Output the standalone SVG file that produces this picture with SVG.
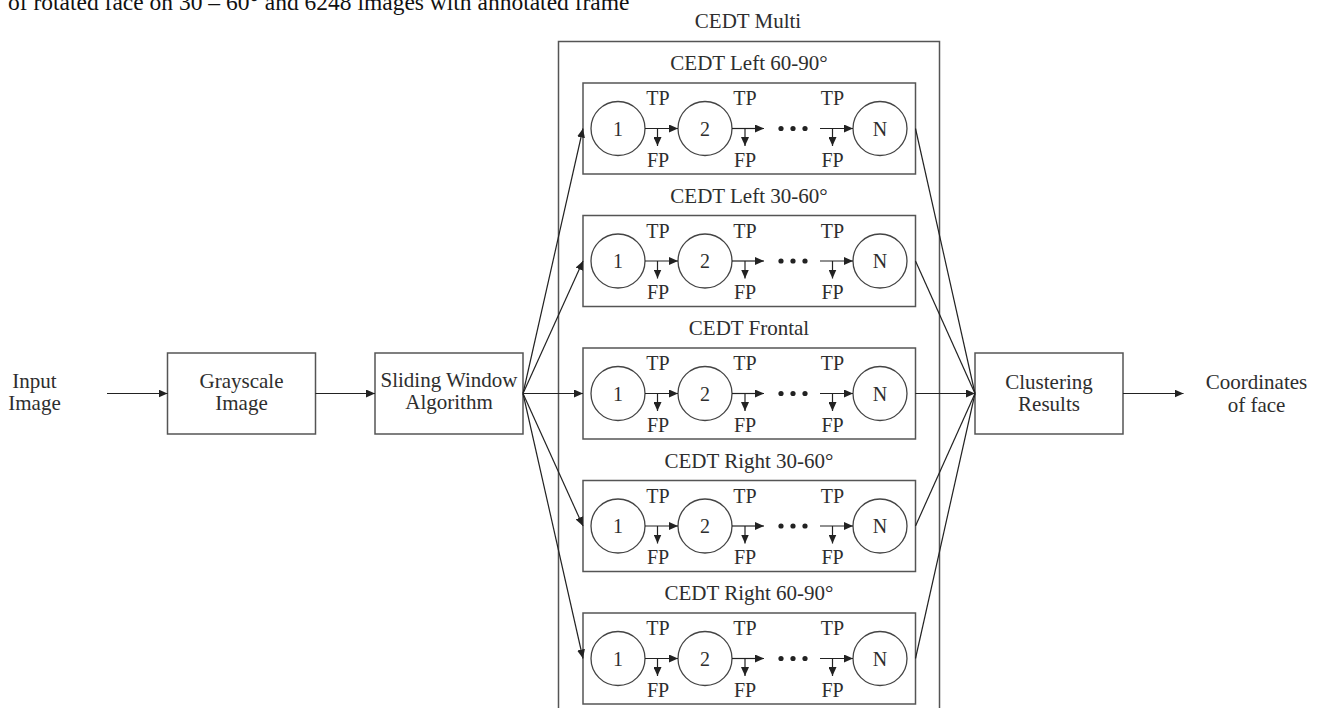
<svg xmlns="http://www.w3.org/2000/svg" width="1320" height="708" viewBox="0 0 1320 708">
<defs>
<marker id="ah" markerUnits="userSpaceOnUse" markerWidth="9" markerHeight="8" refX="9" refY="4" orient="auto">
<path d="M0,0 L9,4 L0,8 z" fill="#222"/>
</marker>
<style>
text{font-family:"Liberation Serif","Times New Roman",serif;fill:#2e2e2e;text-anchor:middle}
.lbl{font-size:21px}
.sm{font-size:20px}
.cap{font-size:23.5px;fill:#111;text-anchor:start}
.box{fill:none;stroke:#555;stroke-width:1.5}
.cir{fill:#fff;stroke:#444;stroke-width:1.3}
.ln{fill:none;stroke:#222;stroke-width:1.2}
.ar{fill:none;stroke:#222;stroke-width:1.2;marker-end:url(#ah)}
.dot{fill:#222}
</style>
</defs>
<rect width="1320" height="708" fill="#fff"/>
<text class="cap" x="8" y="10">of rotated face on 30 – 60° and 6248 images with annotated frame</text>

<g id="input"><text class="lbl" x="34.5" y="388">Input</text><text class="lbl" x="34.5" y="410">Image</text></g>
<g id="grayscale"><rect class="box" x="167.5" y="353" width="148" height="81"/><text class="lbl" x="241.5" y="388">Grayscale</text><text class="lbl" x="241.5" y="410">Image</text></g>
<g id="sliding"><rect class="box" x="375" y="353" width="148" height="81"/><text class="lbl" x="449" y="387">Sliding Window</text><text class="lbl" x="449" y="409">Algorithm</text></g>
<g id="clustering"><rect class="box" x="975" y="353" width="148" height="81"/><text class="lbl" x="1049" y="388.5">Clustering</text><text class="lbl" x="1049" y="410.5">Results</text></g>
<g id="coords"><text class="lbl" x="1256.5" y="389">Coordinates</text><text class="lbl" x="1256.5" y="411.5">of face</text></g>

<g id="cedt-multi"><rect class="box" x="558.5" y="41.5" width="381" height="700"/><text class="lbl" x="748" y="28">CEDT Multi</text></g>

<g id="row-left-60-90">
<rect class="box" x="583" y="83" width="332.5" height="91"/>
<text class="lbl" x="749" y="70">CEDT Left 60-90°</text>
<circle class="cir" cx="618" cy="128.5" r="27"/><circle class="cir" cx="705" cy="128.5" r="27"/><circle class="cir" cx="880" cy="128.5" r="27"/>
<text class="sm" x="618" y="135.5">1</text><text class="sm" x="705" y="135.5">2</text><text class="sm" x="880" y="135.5">N</text>
<text class="sm" x="658" y="105">TP</text><text class="sm" x="745" y="105">TP</text><text class="sm" x="832.5" y="105">TP</text>
<text class="sm" x="658" y="166.5">FP</text><text class="sm" x="745" y="166.5">FP</text><text class="sm" x="832.5" y="166.5">FP</text>
<circle class="dot" cx="781" cy="128.5" r="2.6"/><circle class="dot" cx="793" cy="128.5" r="2.6"/><circle class="dot" cx="805" cy="128.5" r="2.6"/>
</g>
<g id="row-left-30-60">
<rect class="box" x="583" y="215.5" width="332.5" height="91"/>
<text class="lbl" x="749" y="202.5">CEDT Left 30-60°</text>
<circle class="cir" cx="618" cy="261" r="27"/><circle class="cir" cx="705" cy="261" r="27"/><circle class="cir" cx="880" cy="261" r="27"/>
<text class="sm" x="618" y="268">1</text><text class="sm" x="705" y="268">2</text><text class="sm" x="880" y="268">N</text>
<text class="sm" x="658" y="237.5">TP</text><text class="sm" x="745" y="237.5">TP</text><text class="sm" x="832.5" y="237.5">TP</text>
<text class="sm" x="658" y="299">FP</text><text class="sm" x="745" y="299">FP</text><text class="sm" x="832.5" y="299">FP</text>
<circle class="dot" cx="781" cy="261" r="2.6"/><circle class="dot" cx="793" cy="261" r="2.6"/><circle class="dot" cx="805" cy="261" r="2.6"/>
</g>
<g id="row-frontal">
<rect class="box" x="583" y="348" width="332.5" height="91"/>
<text class="lbl" x="749" y="335">CEDT Frontal</text>
<circle class="cir" cx="618" cy="393.5" r="27"/><circle class="cir" cx="705" cy="393.5" r="27"/><circle class="cir" cx="880" cy="393.5" r="27"/>
<text class="sm" x="618" y="400.5">1</text><text class="sm" x="705" y="400.5">2</text><text class="sm" x="880" y="400.5">N</text>
<text class="sm" x="658" y="370">TP</text><text class="sm" x="745" y="370">TP</text><text class="sm" x="832.5" y="370">TP</text>
<text class="sm" x="658" y="431.5">FP</text><text class="sm" x="745" y="431.5">FP</text><text class="sm" x="832.5" y="431.5">FP</text>
<circle class="dot" cx="781" cy="393.5" r="2.6"/><circle class="dot" cx="793" cy="393.5" r="2.6"/><circle class="dot" cx="805" cy="393.5" r="2.6"/>
</g>
<g id="row-right-30-60">
<rect class="box" x="583" y="480.5" width="332.5" height="91"/>
<text class="lbl" x="749" y="467.5">CEDT Right 30-60°</text>
<circle class="cir" cx="618" cy="526" r="27"/><circle class="cir" cx="705" cy="526" r="27"/><circle class="cir" cx="880" cy="526" r="27"/>
<text class="sm" x="618" y="533">1</text><text class="sm" x="705" y="533">2</text><text class="sm" x="880" y="533">N</text>
<text class="sm" x="658" y="502.5">TP</text><text class="sm" x="745" y="502.5">TP</text><text class="sm" x="832.5" y="502.5">TP</text>
<text class="sm" x="658" y="564">FP</text><text class="sm" x="745" y="564">FP</text><text class="sm" x="832.5" y="564">FP</text>
<circle class="dot" cx="781" cy="526" r="2.6"/><circle class="dot" cx="793" cy="526" r="2.6"/><circle class="dot" cx="805" cy="526" r="2.6"/>
</g>
<g id="row-right-60-90">
<rect class="box" x="583" y="613" width="332.5" height="91"/>
<text class="lbl" x="749" y="600">CEDT Right 60-90°</text>
<circle class="cir" cx="618" cy="658.5" r="27"/><circle class="cir" cx="705" cy="658.5" r="27"/><circle class="cir" cx="880" cy="658.5" r="27"/>
<text class="sm" x="618" y="665.5">1</text><text class="sm" x="705" y="665.5">2</text><text class="sm" x="880" y="665.5">N</text>
<text class="sm" x="658" y="635">TP</text><text class="sm" x="745" y="635">TP</text><text class="sm" x="832.5" y="635">TP</text>
<text class="sm" x="658" y="696.5">FP</text><text class="sm" x="745" y="696.5">FP</text><text class="sm" x="832.5" y="696.5">FP</text>
<circle class="dot" cx="781" cy="658.5" r="2.6"/><circle class="dot" cx="793" cy="658.5" r="2.6"/><circle class="dot" cx="805" cy="658.5" r="2.6"/>
</g>

<g id="connectors">
<path class="ar" d="M107,393.5 H167.5"/>
<path class="ar" d="M315.5,393.5 H375"/>
<path class="ar" d="M1123,393.5 H1183.5"/>
<path class="ar" d="M523,393.5 L583,128.5"/>
<path class="ar" d="M523,393.5 L583,261"/>
<path class="ar" d="M523,393.5 L583,393.5"/>
<path class="ar" d="M523,393.5 L583,526"/>
<path class="ar" d="M523,393.5 L583,658.5"/>
<path class="ln" d="M915.5,128.5 L975,393.5"/>
<path class="ln" d="M915.5,261 L975,393.5"/>
<path class="ar" d="M915.5,393.5 L975,393.5"/>
<path class="ln" d="M915.5,526 L975,393.5"/>
<path class="ln" d="M915.5,658.5 L975,393.5"/>
<g id="inner-arrows">
<path class="ar" d="M645,128.5 H678"/><path class="ar" d="M657.5,128.5 V146"/><path class="ar" d="M732,128.5 H764"/><path class="ar" d="M745,128.5 V146"/><path class="ar" d="M820,128.5 H853"/><path class="ar" d="M832.5,128.5 V146"/>
<path class="ar" d="M645,261 H678"/><path class="ar" d="M657.5,261 V278.5"/><path class="ar" d="M732,261 H764"/><path class="ar" d="M745,261 V278.5"/><path class="ar" d="M820,261 H853"/><path class="ar" d="M832.5,261 V278.5"/>
<path class="ar" d="M645,393.5 H678"/><path class="ar" d="M657.5,393.5 V411"/><path class="ar" d="M732,393.5 H764"/><path class="ar" d="M745,393.5 V411"/><path class="ar" d="M820,393.5 H853"/><path class="ar" d="M832.5,393.5 V411"/>
<path class="ar" d="M645,526 H678"/><path class="ar" d="M657.5,526 V543.5"/><path class="ar" d="M732,526 H764"/><path class="ar" d="M745,526 V543.5"/><path class="ar" d="M820,526 H853"/><path class="ar" d="M832.5,526 V543.5"/>
<path class="ar" d="M645,658.5 H678"/><path class="ar" d="M657.5,658.5 V676"/><path class="ar" d="M732,658.5 H764"/><path class="ar" d="M745,658.5 V676"/><path class="ar" d="M820,658.5 H853"/><path class="ar" d="M832.5,658.5 V676"/>
</g>
</g>
</svg>
